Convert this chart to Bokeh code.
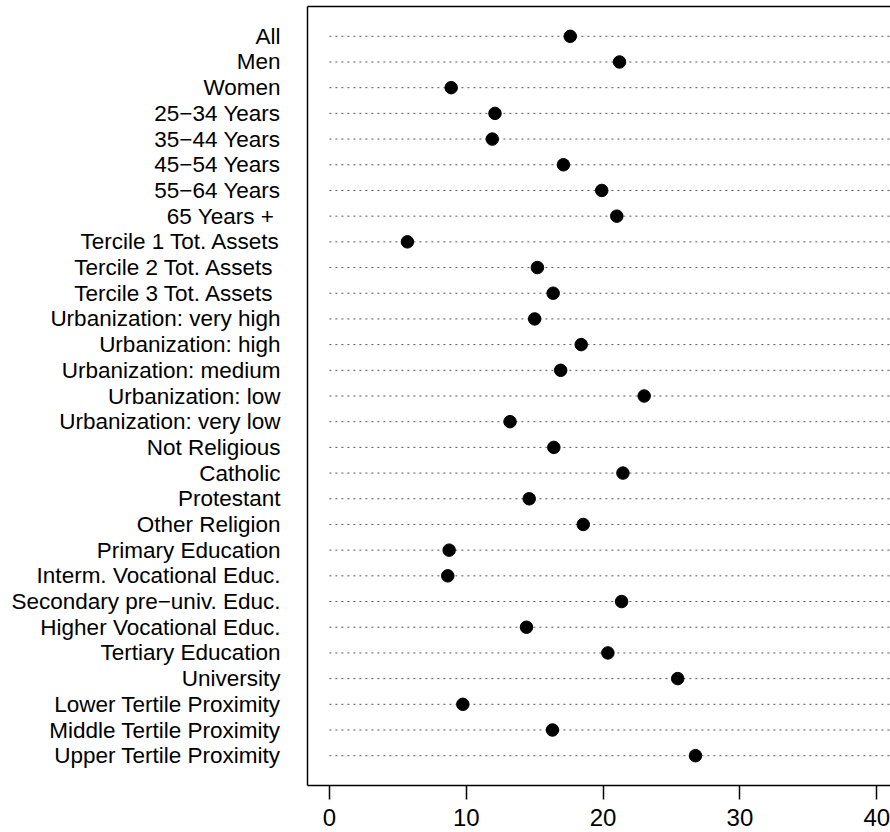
from bokeh.plotting import figure
from bokeh.models import LinearAxis, FixedTicker, Range1d, ColumnDataSource
from bokeh.embed import file_html
from bokeh.resources import INLINE

labels = [
    "All", "Men", "Women", "25\u221234 Years", "35\u221244 Years", "45\u221254 Years",
    "55\u221264 Years", "65 Years +\u00a0", "Tercile 1 Tot. Assets", "Tercile 2 Tot. Assets\u00a0",
    "Tercile 3 Tot. Assets\u00a0", "Urbanization: very high", "Urbanization: high",
    "Urbanization: medium", "Urbanization: low", "Urbanization: very low",
    "Not Religious", "Catholic", "Protestant", "Other Religion",
    "Primary Education", "Interm. Vocational Educ.", "Secondary pre\u2212univ. Educ.",
    "Higher Vocational Educ.", "Tertiary Education", "University",
    "Lower Tertile Proximity", "Middle Tertile Proximity", "Upper Tertile Proximity",
]
values = [
    17.6, 21.2, 8.9, 12.1, 11.9, 17.1,
    19.9, 21.0, 5.7, 15.2,
    16.35, 15.0, 18.4,
    16.9, 23.0, 13.2,
    16.4, 21.45, 14.6, 18.55,
    8.75, 8.65, 21.35,
    14.4, 20.35, 25.45,
    9.75, 16.3, 26.75,
]
x_ticks = [0, 10, 20, 30, 40]
x_lim = [0, 40]

n = len(labels)
ypos = [n - i for i in range(n)]
pad_x = 0.04 * (x_lim[1] - x_lim[0])
pad_y = 0.04 * n

src = ColumnDataSource(dict(x=values, y=ypos, x0=[x_lim[0]] * n, x1=[x_lim[1] + pad_x] * n))

p = figure(width=890, height=832, output_backend="svg", toolbar_location=None,
           x_range=Range1d(x_lim[0] - pad_x, 41.0),
           y_range=Range1d(1 - pad_y, n + pad_y),
           x_axis_location=None, y_axis_location=None)
p.outline_line_color = None
p.grid.visible = False
p.min_border_left = 307
p.min_border_right = 0
p.min_border_top = 6
p.min_border_bottom = 47
p.background_fill_color = "white"
p.border_fill_color = "white"

p.segment(x0="x0", x1="x1", y0="y", y1="y", source=src,
          line_color="#555555", line_width=1, line_dash="2 4")
p.scatter(x="x", y="y", source=src, size=12.5, fill_color="black", line_color="black")

font = "Liberation Sans"

xaxis = LinearAxis(ticker=FixedTicker(ticks=x_ticks))
xaxis.axis_line_color = "black"
xaxis.axis_line_width = 1.5
xaxis.major_tick_line_color = "black"
xaxis.major_tick_line_width = 1.5
xaxis.major_tick_out = 14
xaxis.major_tick_in = 0
xaxis.minor_tick_line_color = None
xaxis.major_label_standoff = 9
xaxis.major_label_text_font = font
xaxis.major_label_text_font_size = "24px"
xaxis.major_label_text_color = "black"
p.add_layout(xaxis, "below")

yaxis = LinearAxis(ticker=FixedTicker(ticks=ypos))
yaxis.major_label_overrides = {y: lab for y, lab in zip(ypos, labels)}
yaxis.axis_line_color = "black"
yaxis.axis_line_width = 1.5
yaxis.major_tick_line_color = None
yaxis.major_tick_out = 0
yaxis.major_tick_in = 0
yaxis.minor_tick_line_color = None
yaxis.major_label_standoff = 27
yaxis.major_label_text_font = font
yaxis.major_label_text_font_size = "22.5px"
yaxis.major_label_text_color = "black"
p.add_layout(yaxis, "left")

top = LinearAxis(ticker=FixedTicker(ticks=[]))
top.axis_line_color = "black"
top.axis_line_width = 1.5
top.major_tick_line_color = None
top.minor_tick_line_color = None
top.major_tick_out = 0
top.major_tick_in = 0
top.major_label_standoff = 0
top.major_label_text_font_size = "0px"
p.add_layout(top, "above")

open("out.html", "w").write(file_html(p, INLINE))
